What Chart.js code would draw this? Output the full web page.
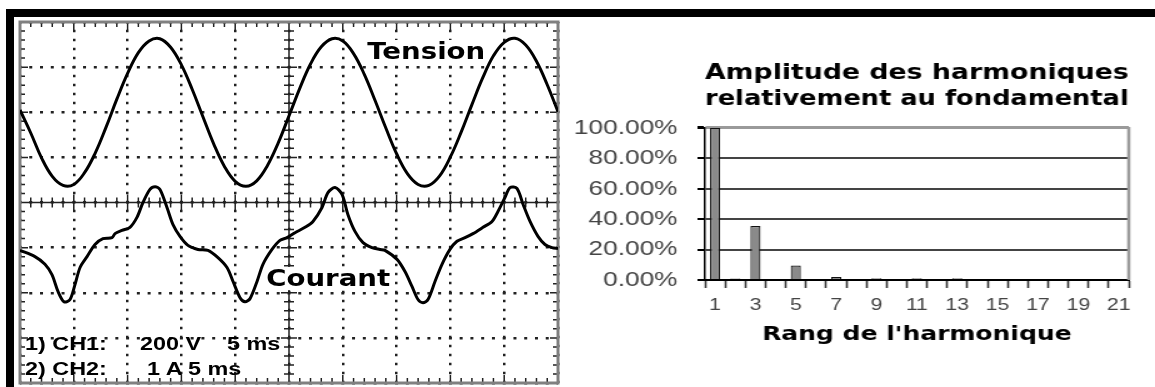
<!DOCTYPE html>
<html lang="fr">
<head>
  <meta charset="UTF-8">
  <title>Tension, courant et harmoniques</title>
  <script src="https://cdn.jsdelivr.net/npm/chart.js"></script>
  <style>
    body {
      margin: 0;
      width: 1155px;
      height: 387px;
      position: relative;
      overflow: hidden;
      background: #fff;
    }
    .barre-haut { position: absolute; left: 6px; top: 9px; width: 1149px; height: 8px; background: #000; }
    .barre-gauche { position: absolute; left: 6px; top: 9px; width: 8px; height: 378px; background: #000; }
    #scope { position: absolute; left: 14px; top: 17px; }
    /* l'image d'origine est étirée horizontalement */
    #spectre { position: absolute; left: 560px; top: 55px; transform: scaleX(1.25); transform-origin: 0 0; }
    .lbl { position: absolute; font-weight: bold; line-height: 1; white-space: pre; transform-origin: 0 0; color: #000; }
    .trace { font-family: "DejaVu Sans", sans-serif; font-size: 23px; background: #fff; padding: 0 1px; transform: scaleX(1.2); }
    .reglage { font-family: "Liberation Sans", Arial, sans-serif; font-size: 18px; transform: scaleX(1.3); }
  </style>
</head>
<body>
  <div class="barre-haut"></div>
  <div class="barre-gauche"></div>

  <canvas id="scope" width="550" height="370"></canvas>
  <canvas id="spectre" width="476" height="332"></canvas>

  <div class="lbl trace" style="left:366px; top:40px;">Tension</div>
  <div class="lbl trace" style="left:265px; top:267px;">Courant</div>
  <div class="lbl reglage" style="left:25px; top:335px;">1) CH1:</div>
  <div class="lbl reglage" style="left:140px; top:335px;">200 V</div>
  <div class="lbl reglage" style="left:227px; top:335px;">5 ms</div>
  <div class="lbl reglage" style="left:25px; top:360px;">2) CH2:</div>
  <div class="lbl reglage" style="left:147px; top:360px;">1 A</div>
  <div class="lbl reglage" style="left:188px; top:360px;">5 ms</div>

  <script>
    // Oscilloscope : temps en ms (5 ms/div), valeurs en divisions (0 = centre de l'écran)
    const temps = [0, 1, 2, 3, 4, 5, 6, 7, 8, 9, 10, 11, 12, 13, 14, 15, 16, 17, 18, 19, 20,
      21, 22, 23, 24, 25, 26, 27, 28, 29, 30, 31, 32, 33, 34, 35, 36, 37, 38, 39, 40,
      41, 42, 43, 44, 45, 46, 47, 48, 49, 50];
    const tension = [2.05, 1.54, 0.99, 0.58, 0.38, 0.40, 0.66, 1.10, 1.67, 2.29, 2.86,
      3.32, 3.58, 3.63, 3.44, 3.05, 2.51, 1.90, 1.30, 0.80, 0.47,
      0.36, 0.48, 0.82, 1.32, 1.92, 2.53, 3.07, 3.45, 3.63, 3.58,
      3.30, 2.84, 2.26, 1.65, 1.08, 0.64, 0.40, 0.38, 0.59, 1.01,
      1.56, 2.17, 2.76, 3.25, 3.55, 3.64, 3.49, 3.13, 2.61, 2.01];

    const tempsCourant = [0.00, 1.39, 2.32, 2.97, 3.53, 4.09, 4.65, 5.11, 5.58, 6.23, 6.97, 7.71, 8.55,
      8.83, 9.48, 10.22, 10.87, 11.43, 12.08, 12.55, 13.01, 13.66, 14.22, 14.87, 15.61, 16.54,
      17.47, 18.40, 19.24, 19.80, 20.45, 20.91, 21.38, 22.03, 22.58, 23.42, 24.16, 24.81,
      25.56, 26.49, 27.23, 28.07, 28.62, 29.28, 29.93, 30.48, 31.13, 31.88, 32.71, 33.46,
      33.92, 35.04, 35.78, 36.43, 36.99, 37.45, 37.92, 38.57, 39.22, 39.96, 40.61, 41.36,
      42.10, 43.03, 43.87, 44.42, 45.07, 45.54, 46.19, 46.75, 47.40, 48.14, 48.79, 49.44, 50.00];
    const courant = [-1.06, -1.20, -1.37, -1.60, -1.97, -2.20, -2.15, -1.82, -1.44, -1.20, -0.93, -0.80, -0.78,
      -0.69, -0.62, -0.55, -0.33, 0.00, 0.29, 0.35, 0.29, -0.11, -0.49, -0.75, -0.95, -1.04,
      -1.06, -1.22, -1.44, -1.75, -2.11, -2.20, -2.13, -1.75, -1.37, -1.04, -0.84, -0.78,
      -0.67, -0.55, -0.42, -0.11, 0.22, 0.33, 0.18, -0.27, -0.64, -0.89, -1.00, -1.04,
      -1.06, -1.26, -1.53, -1.86, -2.15, -2.22, -2.15, -1.75, -1.37, -1.04, -0.86, -0.78,
      -0.69, -0.55, -0.42, -0.20, 0.11, 0.33, 0.31, -0.04, -0.42, -0.75, -0.93, -1.00, -1.02];

    // Spectre
    const rangs = ['1', '2', '3', '4', '5', '6', '7', '8', '9', '10', '11',
      '12', '13', '14', '15', '16', '17', '18', '19', '20', '21'];
    const amplitudes = [100, 1, 35.5, 0, 9.5, 0, 2, 0, 1.2, 0, 1.2,
      0, 1.2, 0, 0, 0, 0, 0, 0, 0, 0];

    // Graduations fines de l'écran : axes centraux et bords
    const cadreScope = {
      id: 'cadreScope',
      beforeDatasetsDraw(chart) {
        const { ctx, chartArea: a, scales: { x, y } } = chart;
        const cx = x.getPixelForValue(25);
        const cy = y.getPixelForValue(0);
        ctx.save();
        ctx.strokeStyle = '#222';
        ctx.lineWidth = 1.5;
        ctx.beginPath();
        ctx.moveTo(a.left, cy); ctx.lineTo(a.right, cy);
        ctx.moveTo(cx, a.top); ctx.lineTo(cx, a.bottom);
        for (let t = 0; t <= 50; t++) {
          const px = x.getPixelForValue(t);
          const l = t % 5 === 0 ? 8 : 5;
          ctx.moveTo(px, cy - l); ctx.lineTo(px, cy + l);
          ctx.moveTo(px, a.top); ctx.lineTo(px, a.top + l);
          ctx.moveTo(px, a.bottom); ctx.lineTo(px, a.bottom - l);
        }
        for (let k = -20; k <= 20; k++) {
          const py = y.getPixelForValue(k / 5);
          const l = k % 5 === 0 ? 8 : 5;
          ctx.moveTo(cx - l, py); ctx.lineTo(cx + l, py);
          ctx.moveTo(a.left, py); ctx.lineTo(a.left + l, py);
          ctx.moveTo(a.right, py); ctx.lineTo(a.right - l, py);
        }
        ctx.stroke();
        ctx.strokeStyle = '#808080';
        ctx.lineWidth = 3;
        ctx.strokeRect(a.left, a.top, a.width, a.height);
        ctx.restore();
      }
    };

    new Chart(document.getElementById('scope'), {
      type: 'line',
      data: {
        datasets: [
          {
            label: 'Tension',
            data: temps.map((t, i) => ({ x: t, y: tension[i] })),
            borderColor: '#000',
            borderWidth: 3,
            pointRadius: 0,
            tension: 0.4
          },
          {
            label: 'Courant',
            data: tempsCourant.map((t, i) => ({ x: t, y: courant[i] })),
            borderColor: '#000',
            borderWidth: 3,
            pointRadius: 0,
            tension: 0.3
          }
        ]
      },
      options: {
        responsive: false,
        animation: false,
        layout: { padding: { left: 6, top: 5, right: 6, bottom: 4 } },
        plugins: { legend: { display: false }, tooltip: { enabled: false } },
        scales: {
          x: {
            type: 'linear', min: 0, max: 50,
            ticks: { display: false, stepSize: 5 },
            grid: { color: '#222', lineWidth: 2.5, drawTicks: false },
            border: { display: false, dash: [2.5, 6.5], dashOffset: 1.25 }
          },
          y: {
            min: -4, max: 4,
            ticks: { display: false, stepSize: 1 },
            grid: { color: '#222', lineWidth: 2.5, drawTicks: false },
            border: { display: false, dash: [3, 7.76], dashOffset: 1.5 }
          }
        }
      },
      plugins: [cadreScope]
    });

    // bord droit gris du cadre du graphique
    const cadreSpectre = {
      id: 'cadreSpectre',
      beforeDatasetsDraw(chart) {
        const { ctx, chartArea: a } = chart;
        ctx.save();
        ctx.strokeStyle = '#9a9a9a';
        ctx.lineWidth = 2.6;
        ctx.beginPath();
        ctx.moveTo(a.right, a.top - 1);
        ctx.lineTo(a.right, a.bottom);
        ctx.stroke();
        ctx.restore();
      }
    };

    new Chart(document.getElementById('spectre'), {
      type: 'bar',
      data: {
        labels: rangs,
        datasets: [{
          data: amplitudes,
          backgroundColor: '#8a8a8a',
          borderColor: '#111',
          borderWidth: 1.2,
          barPercentage: 0.5,
          categoryPercentage: 1
        }]
      },
      options: {
        responsive: false,
        animation: false,
        layout: { padding: { top: 5, right: 21, bottom: 40, left: 0 } },
        plugins: {
          legend: { display: false },
          tooltip: { enabled: false },
          title: {
            display: true,
            fullSize: false,
            text: ['Amplitude des harmoniques', 'relativement au fondamental'],
            color: '#000',
            font: { family: 'DejaVu Sans', size: 22, weight: 'bold', lineHeight: 1.18 },
            padding: { top: 0, bottom: 16 }
          }
        },
        scales: {
          x: {
            grid: { offset: true, drawOnChartArea: false, tickLength: 8, tickColor: '#333', tickWidth: 1.6 },
            border: { color: '#000', width: 2 },
            ticks: {
              autoSkip: false,
              maxRotation: 0,
              padding: 7,
              color: '#444',
              font: { family: 'Liberation Sans', size: 17 },
              callback: (v, i) => (i % 2 === 0 ? rangs[i] : '')
            },
            title: {
              display: true,
              text: "Rang de l'harmonique",
              color: '#000',
              font: { family: 'DejaVu Sans', size: 20, weight: 'bold' },
              padding: { top: 4, bottom: 0 }
            },
            afterFit: (s) => { s.height = 67; }
          },
          y: {
            min: 0,
            max: 100,
            ticks: {
              stepSize: 20,
              padding: 16,
              color: '#444',
              font: { family: 'Liberation Sans', size: 21 },
              callback: (v) => v.toFixed(2) + '%'
            },
            grid: {
              color: (c) => (c.tick && c.tick.value === 100 ? '#9a9a9a' : '#444'),
              lineWidth: (c) => (c.tick && c.tick.value === 100 ? 3 : 2),
              tickLength: 6,
              tickColor: '#000'
            },
            border: { color: '#000', width: 1.5 },
            afterFit: (s) => { s.width = 116; }
          }
        }
      },
      plugins: [cadreSpectre]
    });
  </script>
</body>
</html>
